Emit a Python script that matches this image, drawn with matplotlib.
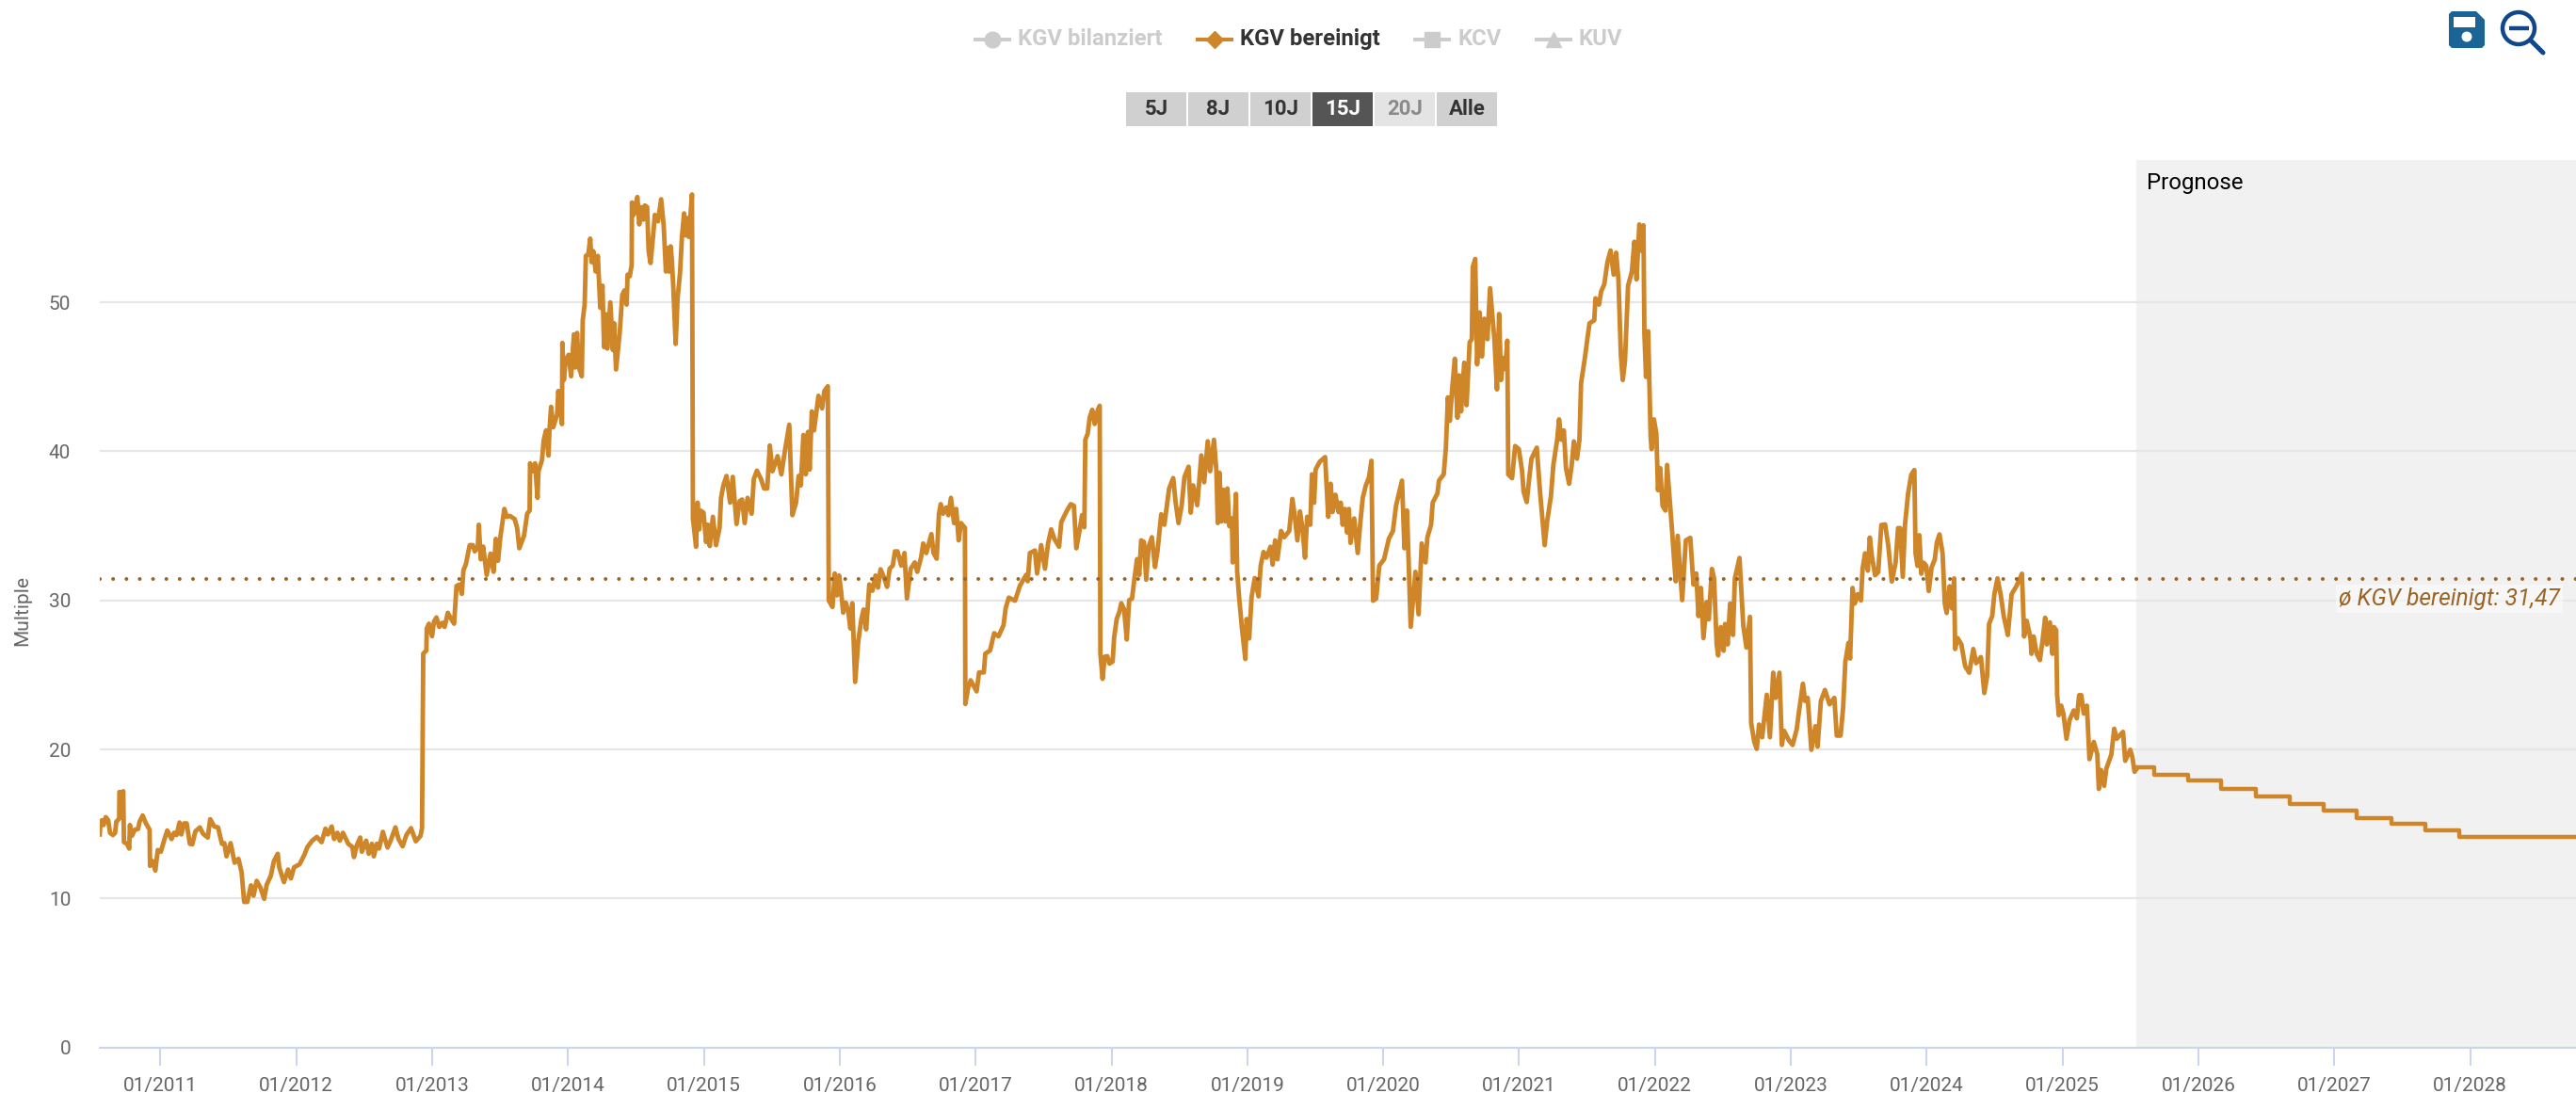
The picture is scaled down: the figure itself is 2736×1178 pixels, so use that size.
# -*- coding: utf-8 -*-
import numpy as np
import matplotlib
matplotlib.use('Agg')
import matplotlib.pyplot as plt
from matplotlib.patches import Rectangle, Circle, Polygon

plt.rcParams['font.family'] = ['Roboto', 'DejaVu Sans']

# KGV bereinigt, (date as decimal year, multiple)
kgv_2010_2012 = [
    (2010.553,14.3),(2010.558,15.04),(2010.569,15.25),(2010.581,14.93),(2010.597,15.46),(2010.615,15.25),
    (2010.629,14.4),(2010.650,14.26),(2010.666,14.4),(2010.675,15.15),(2010.696,15.36),(2010.698,17.15),
    (2010.712,17.05),(2010.726,17.2),(2010.731,13.78),(2010.754,13.67),(2010.770,13.35),(2010.775,14.93),
    (2010.789,14.2),(2010.812,14.62),(2010.835,14.66),(2010.846,15.15),(2010.869,15.57),(2010.893,15.04),
    (2010.920,14.62),(2010.923,12.19),(2010.943,12.51),(2010.962,11.88),(2010.980,13.25),(2011.003,13.14),
    (2011.026,13.88),(2011.050,14.56),(2011.082,13.99),(2011.100,14.41),(2011.119,14.26),(2011.140,15.1),
    (2011.153,14.3),(2011.174,15.04),(2011.193,15.04),(2011.216,13.67),(2011.234,13.63),(2011.257,14.51),
    (2011.290,14.77),(2011.313,14.35),(2011.348,14.09),(2011.366,15.32),(2011.396,14.83),(2011.424,14.77),
    (2011.452,13.67),(2011.470,13.71),(2011.486,12.83),(2011.516,13.71),(2011.546,12.4),(2011.574,12.66),
    (2011.597,11.77),(2011.616,9.77),(2011.639,9.77),(2011.666,10.88),(2011.685,10.19),(2011.708,11.18),
    (2011.736,10.72),(2011.763,9.98),(2011.782,10.93),(2011.812,11.52),(2011.835,12.51),(2011.863,13.0),
    (2011.874,12.09),(2011.909,11.1),(2011.939,11.94),(2011.960,11.35),(2011.983,12.09),(2012.024,12.3),
    (2012.059,12.93),(2012.082,13.46),(2012.117,13.88),(2012.151,14.13),(2012.186,13.78),(2012.214,14.68),
    (2012.232,14.3),(2012.260,14.83),(2012.278,13.99),(2012.302,14.41),(2012.320,13.88),(2012.343,14.41),
    (2012.382,13.67),(2012.412,13.46),(2012.424,12.78),(2012.445,13.56),(2012.470,14.09),(2012.482,13.14),
    (2012.514,13.88),(2012.533,13.0),(2012.556,13.67),(2012.570,12.83),(2012.593,13.67),(2012.609,13.35),
    (2012.637,14.47),(2012.671,13.42),(2012.694,13.88),(2012.729,14.77),(2012.752,13.99),(2012.782,13.5),
    (2012.810,14.26),(2012.844,14.72),(2012.879,13.84),(2012.914,14.2),(2012.925,14.72),
]
kgv_2013_2014 = [
    (2012.934,26.43),(2012.957,26.64),(2012.960,28.12),(2012.976,28.44),(2012.999,27.6),(2013.013,28.58),
    (2013.031,28.86),(2013.052,28.22),(2013.075,28.5),(2013.091,28.22),(2013.115,29.17),(2013.133,28.86),
    (2013.161,28.44),(2013.179,30.97),(2013.202,31.07),(2013.218,30.44),(2013.230,32.02),(2013.248,32.44),
    (2013.276,33.71),(2013.299,33.71),(2013.313,33.29),(2013.336,33.61),(2013.343,35.08),(2013.357,32.76),
    (2013.375,33.61),(2013.401,31.71),(2013.429,33.14),(2013.452,31.92),(2013.468,34.13),(2013.484,32.66),
    (2013.503,34.34),(2013.531,36.14),(2013.549,35.61),(2013.572,35.67),(2013.607,35.46),(2013.625,34.87),
    (2013.641,33.5),(2013.676,34.34),(2013.699,35.82),(2013.717,36.03),(2013.720,39.2),(2013.738,38.67),
    (2013.757,39.2),(2013.775,36.88),(2013.782,38.67),(2013.808,39.41),(2013.821,40.78),(2013.838,41.41),
    (2013.856,39.72),(2013.863,41.41),(2013.875,42.99),(2013.891,41.62),(2013.919,42.47),(2013.928,44.05),
    (2013.942,43.1),(2013.955,41.83),(2013.958,47.28),(2013.969,44.79),(2013.981,46.05),(2014.004,46.48),
    (2014.022,45.04),(2014.043,47.85),(2014.052,45.63),(2014.066,47.95),(2014.080,45.63),(2014.101,45.04),
    (2014.108,48.8),(2014.122,49.85),(2014.131,53.12),(2014.149,53.23),(2014.163,54.28),(2014.173,52.7),
    (2014.186,53.44),(2014.203,52.07),(2014.219,53.12),(2014.237,49.64),(2014.253,51.12),(2014.265,47.0),
    (2014.281,49.2),(2014.288,46.9),(2014.311,50.0),(2014.330,46.8),(2014.339,48.6),(2014.353,45.5),
    (2014.380,47.95),(2014.399,50.5),(2014.415,50.8),(2014.431,49.85),(2014.438,51.86),(2014.454,51.75),
    (2014.468,52.49),(2014.470,56.7),(2014.482,55.87),(2014.496,56.5),(2014.510,57.07),(2014.524,55.23),
    (2014.537,56.39),(2014.554,55.55),(2014.565,56.5),(2014.582,56.39),(2014.593,53.44),(2014.607,52.64),
    (2014.623,54.18),(2014.639,55.87),(2014.662,55.44),(2014.685,56.92),(2014.704,55.13),(2014.720,52.07),
    (2014.732,53.65),(2014.744,52.07),(2014.755,53.76),(2014.764,52.81),(2014.774,51.12),(2014.792,47.21),
    (2014.806,50.27),(2014.824,51.96),(2014.838,54.39),(2014.854,55.97),(2014.866,54.49),(2014.877,55.65),
    (2014.889,54.39),(2014.912,57.24),
]
kgv_2015_2017 = [
    (2014.919,35.5),(2014.942,33.6),(2014.953,36.56),(2014.965,34.77),(2014.974,36.03),(2014.997,35.89),
    (2015.016,33.92),(2015.029,35.08),(2015.043,33.65),(2015.066,35.61),(2015.089,33.71),(2015.115,34.87),
    (2015.126,36.88),(2015.143,37.72),(2015.166,38.35),(2015.193,36.56),(2015.212,38.29),(2015.240,35.13),
    (2015.263,36.67),(2015.281,36.77),(2015.300,35.19),(2015.321,36.88),(2015.351,35.82),(2015.367,38.14),
    (2015.390,38.71),(2015.420,38.14),(2015.443,37.51),(2015.466,37.51),(2015.485,40.4),(2015.505,38.67),
    (2015.542,39.68),(2015.570,38.46),(2015.598,40.15),(2015.628,41.79),(2015.651,35.72),(2015.678,36.56),
    (2015.697,38.35),(2015.713,37.72),(2015.732,41.1),(2015.750,38.46),(2015.766,41.31),(2015.778,38.78),
    (2015.794,42.68),(2015.810,41.41),(2015.843,43.73),(2015.870,42.89),(2015.886,44.05),(2015.912,44.37),
    (2015.919,30.0),(2015.946,29.56),(2015.963,31.81),(2015.979,30.34),(2015.995,31.67),(2016.009,30.65),
    (2016.025,29.18),(2016.044,29.85),(2016.062,29.28),(2016.078,28.12),(2016.092,29.81),(2016.113,24.53),
    (2016.136,27.28),(2016.159,28.75),(2016.175,29.39),(2016.194,28.06),(2016.217,31.07),(2016.240,30.65),
    (2016.263,31.67),(2016.281,30.86),(2016.300,32.09),(2016.327,31.5),(2016.348,30.91),(2016.367,32.13),
    (2016.390,32.34),(2016.406,33.29),(2016.425,33.29),(2016.452,32.34),(2016.476,33.18),(2016.494,30.13),
    (2016.522,32.13),(2016.552,32.55),(2016.570,31.92),(2016.598,32.87),(2016.614,33.82),(2016.637,33.18),
    (2016.674,34.45),(2016.690,33.18),(2016.713,32.8),(2016.730,35.82),(2016.743,36.46),(2016.760,35.82),
    (2016.783,36.24),(2016.799,35.72),(2016.818,36.88),(2016.841,35.19),(2016.857,36.14),(2016.875,34.03),
    (2016.892,35.19),(2016.921,34.87),(2016.924,23.05),(2016.944,24.11),(2016.963,24.64),(2017.007,23.9),
    (2017.025,25.17),(2017.060,25.17),(2017.071,26.43),(2017.106,26.64),(2017.136,27.8),(2017.168,27.59),
    (2017.205,28.33),(2017.221,29.49),(2017.244,30.19),(2017.290,29.98),(2017.325,30.97),(2017.371,31.71),
    (2017.383,31.29),(2017.399,33.18),(2017.436,33.35),(2017.452,31.81),(2017.482,33.71),(2017.510,32.13),
    (2017.533,33.82),(2017.556,34.77),(2017.579,34.13),(2017.614,33.6),(2017.630,35.25),(2017.672,36.03),
    (2017.700,36.46),(2017.723,36.35),(2017.741,33.5),(2017.764,34.66),(2017.783,35.72),(2017.800,34.91),
    (2017.807,40.78),(2017.825,41.2),(2017.839,42.26),(2017.858,42.79),(2017.876,41.84),(2017.899,42.79),
    (2017.913,43.06),
]
kgv_2018_2020 = [
    (2017.918,26.43),(2017.934,24.74),(2017.950,26.22),(2017.969,26.26),(2017.985,25.76),(2018.008,25.9),
    (2018.019,27.49),(2018.038,28.75),(2018.056,29.18),(2018.072,29.81),(2018.093,29.39),(2018.112,27.38),
    (2018.130,30.02),(2018.151,30.13),(2018.169,31.5),(2018.188,32.77),(2018.204,31.71),(2018.218,34.03),
    (2018.239,33.92),(2018.255,31.39),(2018.273,33.6),(2018.297,34.24),(2018.320,32.24),(2018.338,33.29),
    (2018.366,35.78),(2018.389,35.08),(2018.407,36.31),(2018.424,37.51),(2018.454,38.21),(2018.472,36.56),
    (2018.493,35.19),(2018.516,36.35),(2018.537,38.29),(2018.567,38.97),(2018.583,35.89),(2018.601,37.72),
    (2018.631,36.39),(2018.661,39.73),(2018.682,37.93),(2018.708,40.68),(2018.726,38.67),(2018.754,40.78),
    (2018.772,38.67),(2018.782,35.19),(2018.795,38.57),(2018.809,35.3),(2018.823,37.43),(2018.839,35.3),
    (2018.853,37.51),(2018.867,34.98),(2018.886,35.5),(2018.892,32.55),(2018.916,37.15),(2018.925,31.92),
    (2018.939,30.23),(2018.960,28.12),(2018.985,26.07),(2018.994,28.75),(2019.013,27.45),(2019.031,30.23),
    (2019.054,31.5),(2019.082,30.27),(2019.098,32.34),(2019.119,33.25),(2019.140,32.87),(2019.170,33.6),
    (2019.186,32.4),(2019.204,34.03),(2019.221,32.76),(2019.248,34.66),(2019.271,34.24),(2019.308,34.66),
    (2019.331,36.81),(2019.348,35.72),(2019.368,34.03),(2019.387,35.97),(2019.405,34.87),(2019.424,32.87),
    (2019.440,35.61),(2019.463,35.08),(2019.475,38.46),(2019.491,36.56),(2019.502,38.78),(2019.532,39.3),
    (2019.572,39.62),(2019.595,35.61),(2019.613,37.83),(2019.627,35.93),(2019.648,37.09),(2019.671,35.93),
    (2019.687,36.56),(2019.701,35.08),(2019.717,36.14),(2019.733,34.56),(2019.747,36.14),(2019.759,33.86),
    (2019.786,35.5),(2019.812,33.18),(2019.833,35.4),(2019.849,36.88),(2019.872,37.72),(2019.895,38.25),
    (2019.913,39.37),(2019.925,29.98),(2019.948,30.13),(2019.971,32.34),(2020.006,32.76),(2020.041,34.13),
    (2020.071,34.66),(2020.094,36.35),(2020.138,38.04),(2020.156,33.5),(2020.175,36.03),(2020.202,28.23),
    (2020.237,31.92),(2020.260,29.07),(2020.283,33.82),(2020.311,32.55),(2020.325,34.24),(2020.352,35.08),
    (2020.364,36.56),(2020.399,37.19),(2020.410,38.04),(2020.445,38.46),(2020.461,40.25),
]
kgv_2020_2022 = [
    (2020.476,43.63),(2020.490,42.05),(2020.509,44.37),(2020.527,46.22),(2020.546,42.26),(2020.559,45.1),
    (2020.573,42.68),(2020.596,45.95),(2020.613,43.1),(2020.636,47.32),(2020.652,47.53),(2020.659,52.38),
    (2020.677,52.91),(2020.691,45.84),(2020.710,49.32),(2020.726,46.37),(2020.744,48.9),(2020.767,47.53),
    (2020.786,50.95),(2020.804,49.01),(2020.818,47.53),(2020.837,44.16),(2020.853,49.22),(2020.867,44.79),
    (2020.883,46.27),(2020.897,45.53),(2020.913,47.43),(2020.920,38.46),(2020.948,38.2),(2020.971,40.36),
    (2020.998,40.15),(2021.022,38.67),(2021.033,37.3),(2021.056,36.6),(2021.075,38.25),(2021.091,39.51),
    (2021.130,40.25),(2021.153,37.4),(2021.188,33.71),(2021.206,35.29),(2021.234,36.98),(2021.252,39.09),
    (2021.280,40.78),(2021.294,42.15),(2021.310,40.78),(2021.329,41.41),(2021.345,38.88),(2021.368,37.83),
    (2021.387,39.09),(2021.403,40.67),(2021.426,39.51),(2021.444,40.78),(2021.456,44.58),(2021.484,46.27),
    (2021.502,47.53),(2021.518,48.59),(2021.553,48.8),(2021.562,50.27),(2021.588,49.85),(2021.604,50.74),
    (2021.627,51.22),(2021.650,52.7),(2021.673,53.48),(2021.696,51.86),(2021.714,53.33),(2021.731,51.54),
    (2021.749,46.48),(2021.763,44.79),(2021.779,46.05),(2021.802,51.12),(2021.830,52.07),(2021.848,54.07),
    (2021.864,51.54),(2021.885,55.23),(2021.904,53.44),(2021.915,55.17),(2021.922,47.95),(2021.934,45.0),
    (2021.950,48.06),(2021.968,40.99),(2021.975,40.15),(2021.992,42.15),(2022.010,41.2),(2022.022,37.4),
    (2022.038,38.88),(2022.056,36.35),(2022.077,36.03),(2022.089,39.09),(2022.126,34.66),(2022.142,32.55),
    (2022.153,31.28),(2022.167,34.34),(2022.200,30.02),(2022.227,34.03),(2022.260,34.2),(2022.283,31.07),
    (2022.304,31.81),
]
kgv_2022_2025 = [
    (2022.320,28.95),(2022.338,30.84),(2022.357,27.47),(2022.380,29.89),(2022.396,28.73),(2022.419,32.11),
    (2022.435,31.48),(2022.454,27.05),(2022.465,26.31),(2022.484,28.21),(2022.505,26.62),(2022.516,28.42),
    (2022.535,27.05),(2022.553,29.79),(2022.574,27.68),(2022.588,31.48),(2022.622,32.85),(2022.650,28.31),
    (2022.673,26.84),(2022.699,28.9),(2022.708,21.77),(2022.731,20.5),(2022.749,20.04),(2022.766,21.67),
    (2022.789,20.82),(2022.823,23.67),(2022.846,20.82),(2022.870,25.15),(2022.888,23.46),(2022.916,25.15),
    (2022.934,20.3),(2022.950,21.25),(2022.985,20.62),(2023.013,20.3),(2023.043,21.35),(2023.061,22.62),
    (2023.089,24.41),(2023.105,23.25),(2023.124,23.46),(2023.151,19.98),(2023.181,21.56),(2023.197,20.19),
    (2023.221,23.25),(2023.251,23.99),(2023.285,23.03),(2023.320,23.46),(2023.338,20.93),(2023.366,20.93),
    (2023.385,22.83),(2023.401,25.89),(2023.424,27.15),(2023.436,26.1),(2023.454,30.84),(2023.470,29.79),
    (2023.493,30.42),(2023.516,30.0),(2023.528,32.11),(2023.546,33.16),(2023.567,32.0),(2023.581,34.22),
    (2023.597,32.95),(2023.620,31.69),(2023.643,31.9),(2023.666,35.06),(2023.694,35.1),(2023.717,33.69),
    (2023.743,31.27),(2023.771,32.53),(2023.789,34.85),(2023.805,34.85),(2023.824,31.58),(2023.840,35.06),
    (2023.863,37.17),(2023.886,38.43),(2023.909,38.75),(2023.918,33.16),(2023.932,32.32),(2023.946,34.38),
    (2023.960,31.79),(2023.978,32.53),(2023.997,32.32),(2024.015,30.63),(2024.036,32.21),(2024.059,32.74),
    (2024.075,33.9),(2024.094,34.43),(2024.117,33.16),(2024.133,29.79),(2024.147,29.16),(2024.168,30.95),
    (2024.186,29.47),(2024.202,31.48),(2024.209,26.74),(2024.228,27.47),(2024.255,27.05),(2024.283,25.58),
    (2024.313,25.15),(2024.343,26.74),(2024.364,25.79),(2024.399,26.2),(2024.424,23.79),(2024.445,24.94),
    (2024.459,28.42),(2024.482,28.95),(2024.498,30.42),(2024.521,31.48),(2024.544,30.42),(2024.567,28.95),
    (2024.597,27.68),(2024.625,30.42),(2024.660,30.95),(2024.701,31.79),(2024.717,27.58),(2024.736,28.63),
    (2024.764,27.47),(2024.771,26.42),(2024.787,27.58),(2024.810,26.42),(2024.833,26.0),(2024.852,27.26),
    (2024.872,28.84),(2024.884,27.05),(2024.907,28.53),(2024.925,26.42),(2024.937,28.21),(2024.953,28.0),
    (2024.960,23.67),(2024.972,22.3),(2024.990,22.94),(2025.006,22.41),(2025.029,20.72),(2025.052,21.98),
    (2025.082,22.62),(2025.105,22.09),(2025.122,23.64),(2025.138,23.64),(2025.156,22.41),(2025.179,22.94),
    (2025.198,19.35),(2025.230,20.5),(2025.256,19.66),(2025.267,17.35),(2025.283,18.62),(2025.306,17.56),
    (2025.322,18.71),(2025.359,19.66),(2025.380,21.39),(2025.399,20.72),(2025.445,21.18),(2025.461,19.24),
    (2025.498,19.98),(2025.514,19.47),(2025.530,18.5),(2025.545,18.7),
]

# forecast, steps quarter by quarter
prognose_dates = [2025.545, 2025.674, 2025.923, 2026.169, 2026.420, 2026.671, 2026.920, 2027.166, 2027.418, 2027.671, 2027.920, 2028.779]
prognose_values = [18.8, 18.33, 17.89, 17.36, 16.83, 16.35, 15.91, 15.42, 15.0, 14.58, 14.16, 14.16]

avg_kgv = 31.47
y_ticks = [0, 10, 20, 30, 40, 50]
x_years = list(range(2011, 2029))
prognose_start = 2025.54
legend_names = ['KGV bilanziert', 'KGV bereinigt', 'KCV', 'KUV']
range_buttons = ['5J', '8J', '10J', '15J', '20J', 'Alle']

orange = '#ce8629'
brown = '#9c6426'
grey_off = '#cccccc'

fig = plt.figure(figsize=(27.36, 11.78), dpi=100)
ax = fig.add_axes([105.8 / 2736, 1 - 1112.7 / 1178, 1 - 105.8 / 2736, (1112.7 - 170) / 1178])

hist = np.array(kgv_2010_2012 + kgv_2013_2014 + kgv_2015_2017 + kgv_2018_2020 + kgv_2020_2022 + kgv_2022_2025)

ax.axvspan(prognose_start, 2028.779, color='#f1f1f2', lw=0, zorder=0)
ax.grid(axis='y', color='#e6e6e6', lw=1.6, zorder=1)
ax.set_axisbelow(True)
ax.plot(hist[:, 0], hist[:, 1], color=orange, lw=3.5, solid_joinstyle='round', zorder=3)
ax.step(prognose_dates, prognose_values, where='post', color=orange, lw=3.2, zorder=3)
ax.axhline(avg_kgv, color=brown, lw=2.9, linestyle=(0, (0.01, 3.5)), dash_capstyle='round', zorder=4)

ax.text(2028.66, 30.12, 'ø KGV bereinigt: 31,47', color=brown, style='italic', fontsize=17.7,
        ha='right', va='center', zorder=5,
        bbox=dict(facecolor='white', alpha=0.45, edgecolor='none', pad=2))
ax.text(prognose_start + 0.08, 58.0, 'Prognose', color='black', fontsize=17.3, ha='left', va='center')

ax.set_xlim(2010.552, 2028.779)
ax.set_ylim(0, 59.55)
ax.set_yticks(y_ticks)
ax.set_xticks(x_years)
ax.set_xticklabels(['01/%d' % y for y in x_years])
ax.tick_params(axis='y', length=0, labelsize=15, labelcolor='#666666', pad=22)
ax.tick_params(axis='x', length=13.5, width=1.5, color='#ccd6eb', labelsize=15, labelcolor='#666666', pad=9)
for s in ['top', 'right', 'left']:
    ax.spines[s].set_visible(False)
ax.spines['bottom'].set_color('#ccd6eb')
ax.spines['bottom'].set_linewidth(1.5)
fig.text(24 / 2736, 1 - 649 / 1178, 'Multiple', rotation=90, color='#666666', fontsize=15, ha='center', va='center')

# buttons, legend and icons sit on top, in pixel coordinates
ui = fig.add_axes([0, 0, 1, 1], facecolor='none')
ui.set_xlim(0, 2736)
ui.set_ylim(1178, 0)
ui.axis('off')

leg_icons = [(1054, 'o'), (1290, 'D'), (1521, 's'), (1650, '^')]
leg_text_x = [1081, 1317, 1549, 1677]
for i, name in enumerate(legend_names):
    col = orange if i == 1 else grey_off
    ui.plot([leg_icons[i][0] - 18, leg_icons[i][0] + 18], [41.5, 41.5], color=col, lw=2.9)
    ui.plot(leg_icons[i][0], 41.5, marker=leg_icons[i][1], color=col, mec=col,
            ms=9 if i == 1 else 12)
    ui.text(leg_text_x[i], 41.5, name, fontsize=17.2, fontweight='bold', va='center',
            color='#333333' if i == 1 else grey_off)

btn_x = [1196, 1262, 1328, 1394, 1460, 1526]
for i, label in enumerate(range_buttons):
    face, txt = '#d0d0d0', '#333333'
    if label == '15J':
        face, txt = '#555555', 'white'
    if label == '20J':
        face, txt = '#e4e4e4', '#8a8a8a'
    ui.add_patch(Rectangle((btn_x[i], 98), 64, 36, facecolor=face, edgecolor='none'))
    ui.text(btn_x[i] + 32, 116, label, fontsize=16, fontweight='bold', color=txt, ha='center', va='center')

# save icon
blue_save = '#1a6496'
ui.add_patch(Polygon([(2601, 15), (2604, 12), (2630, 12), (2639, 21), (2639, 48), (2636, 51), (2604, 51), (2601, 48)],
                     closed=True, facecolor=blue_save, edgecolor='none'))
ui.add_patch(Rectangle((2606, 18), 23, 11, facecolor='white', edgecolor='none'))
ui.add_patch(Circle((2620, 39), 5.5, facecolor='white', edgecolor='none'))

# zoom out icon
blue_zoom = '#11478a'
ui.add_patch(Circle((2675, 30), 17, facecolor='none', edgecolor=blue_zoom, lw=3.2))
ui.plot([2665, 2686], [30, 30], color=blue_zoom, lw=3.2, solid_capstyle='butt')
ui.plot([2688, 2701], [43, 56], color=blue_zoom, lw=3.6, solid_capstyle='round')

fig.savefig('out.png', dpi=100)
